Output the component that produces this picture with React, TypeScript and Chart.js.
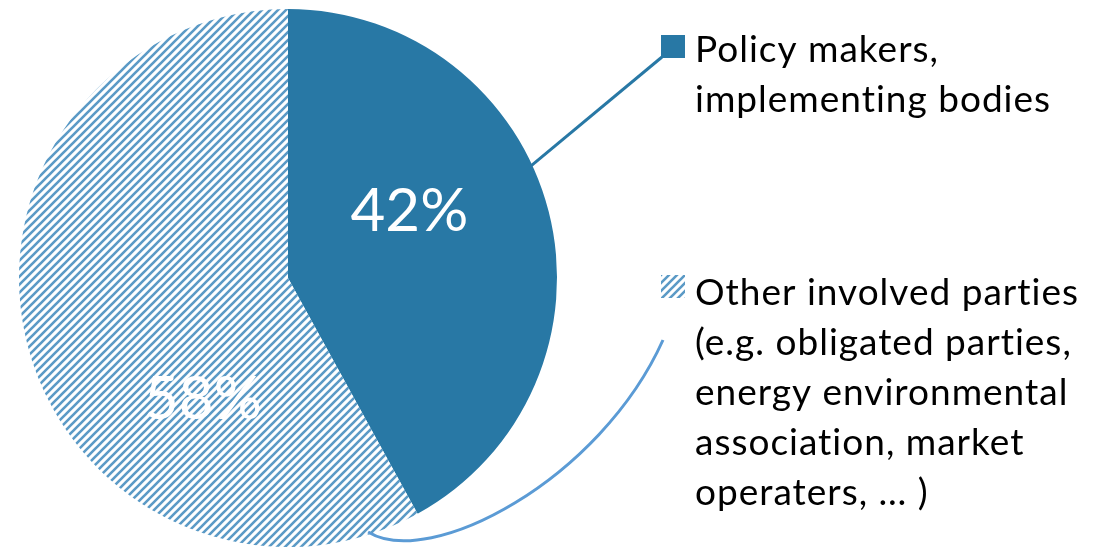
import React, { useEffect, useRef } from "react";
import { Chart, registerables } from "chart.js";

Chart.register(...registerables);

const categories = ["Policy makers, implementing bodies", "Other involved parties"];
const values = [42, 58];
const percentLabels = ["42%", "58%"];
const legendLines = [
  ["Policy makers,", "implementing bodies"],
  ["Other involved parties", "(e.g. obligated parties,", "energy environmental", "association, market", "operaters, … )"],
];

const SOLID = "#2878a5";
const STRIPE = "#5b9ac6";
const CURVE = "#5b9bd5";
const FONT = "Lato, 'Open Sans', sans-serif";

function makeHatch(): CanvasPattern | string {
  const c = document.createElement("canvas");
  c.width = 8;
  c.height = 8;
  const g = c.getContext("2d");
  if (!g) return STRIPE;
  g.fillStyle = "#ffffff";
  g.fillRect(0, 0, 8, 8);
  g.strokeStyle = STRIPE;
  g.lineWidth = 2.6;
  g.lineCap = "square";
  g.beginPath();
  g.moveTo(0, 8);
  g.lineTo(8, 0);
  g.moveTo(-2, 2);
  g.lineTo(2, -2);
  g.moveTo(6, 10);
  g.lineTo(10, 6);
  g.stroke();
  const p = g.createPattern(c, "repeat");
  return p || STRIPE;
}

export default function App() {
  const ref = useRef<HTMLCanvasElement | null>(null);

  useEffect(() => {
    document.body.style.margin = "0";
    const canvas = ref.current;
    if (!canvas) return;
    const hatch = makeHatch();

    const overlay = {
      id: "overlay",
      afterDraw(chart: any) {
        const ctx = chart.ctx as CanvasRenderingContext2D;
        const arcs = chart.getDatasetMeta(0).data as any[];
        if (!arcs.length) return;
        const cx = arcs[0].x;
        const cy = arcs[0].y;
        const R = arcs[0].outerRadius;
        const deg = Math.PI / 180;

        // legend layout
        const lx = 661;
        const box = 24;
        const tops = [35, 275];
        const textX = 695;
        const baselines = [62, 305];
        const lh = 50;

        ctx.save();
        // leader line 1
        const a1 = -24.6 * deg;
        ctx.strokeStyle = SOLID;
        ctx.lineWidth = 3;
        ctx.beginPath();
        ctx.moveTo(cx + Math.cos(a1) * R * 0.985, cy + Math.sin(a1) * R * 0.985);
        ctx.lineTo(lx + 1, tops[0] + box - 2);
        ctx.stroke();

        // leader curve 2
        const a2 = 72.5 * deg;
        ctx.strokeStyle = CURVE;
        ctx.lineWidth = 3;
        ctx.beginPath();
        ctx.moveTo(cx + Math.cos(a2) * R * 0.99, cy + Math.sin(a2) * R * 0.99);
        ctx.bezierCurveTo(cx + 142, cy + 292, cx + 312, cy + 202, lx + 2, tops[1] + 65);
        ctx.stroke();

        // percent labels
        ctx.fillStyle = "#ffffff";
        ctx.textAlign = "center";
        ctx.textBaseline = "middle";
        ctx.font = `60px ${FONT}`;
        const labelPos = [
          { a: -28.8, r: 0.515 },
          { a: 124.9, r: 0.553 },
        ];
        percentLabels.forEach((t, i) => {
          const p = labelPos[i];
          ctx.fillText(t, cx + Math.cos(p.a * deg) * R * p.r, cy + Math.sin(p.a * deg) * R * p.r);
        });

        // legend
        ctx.fillStyle = SOLID;
        ctx.fillRect(lx, tops[0], box, box - 1);
        ctx.fillStyle = hatch as any;
        ctx.fillRect(lx, tops[1], box, box - 1);

        ctx.fillStyle = "#000000";
        ctx.textAlign = "left";
        ctx.textBaseline = "alphabetic";
        ctx.font = `37px ${FONT}`;
        (ctx as any).letterSpacing = "1px";
        legendLines.forEach((lines, i) => {
          lines.forEach((line, j) => {
            ctx.fillText(line, textX, baselines[i] + j * lh);
          });
        });
        ctx.restore();
      },
    };

    const chart = new Chart(canvas, {
      type: "pie",
      data: {
        labels: categories,
        datasets: [
          {
            data: values,
            backgroundColor: [SOLID, hatch as any],
            borderWidth: 0,
          },
        ],
      },
      options: {
        responsive: false,
        animation: false,
        layout: { padding: { left: 19, top: 9, bottom: 0, right: 540 } },
        plugins: {
          legend: { display: false },
          tooltip: { enabled: false },
        },
      },
      plugins: [overlay],
    });
    return () => chart.destroy();
  }, []);

  return (
    <div style={{ width: 1097, height: 547 }}>
      <canvas ref={ref} width={1097} height={547} />
    </div>
  );
}
